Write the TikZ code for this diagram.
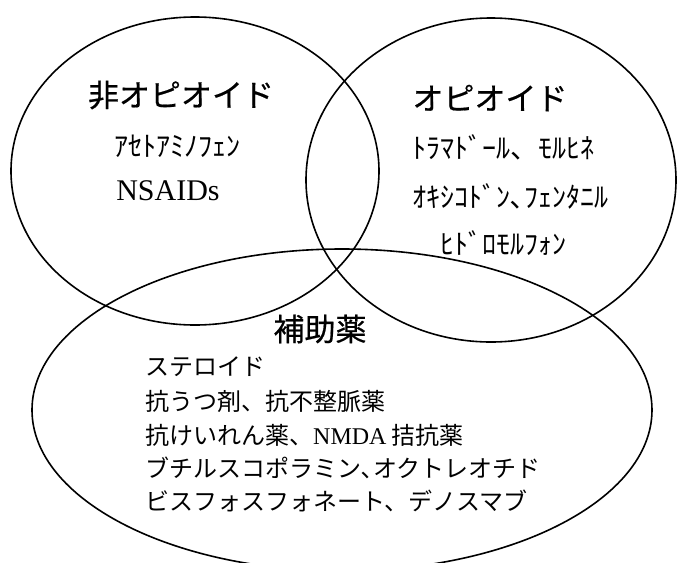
\documentclass[tikz,border=0pt]{standalone}
\usepackage{fontspec}
\setmainfont{Liberation Serif}
\newfontfamily\cjk{Noto Sans CJK JP}
\newfontfamily\cjkhead[FakeBold=0.6]{Noto Sans CJK JP}
\tikzset{
  venn/.style={line width=1.6pt, draw=black},
  head/.style={inner sep=0pt, font=\cjkhead\fontsize{31}{31}\selectfont},
  half/.style={inner sep=0pt, font=\cjk\fontsize{28}{28}\selectfont},
  item/.style={inner sep=0pt, anchor=west, font=\cjk\fontsize{24}{24}\selectfont},
  latin/.style={inner sep=0pt, font=\rmfamily\fontsize{30}{30}\selectfont},
}
\begin{document}
\begin{tikzpicture}[x=1pt,y=-1pt]
  \useasboundingbox (0,0) rectangle (681,563);
  \clip (0,0) rectangle (681,563);
  % circles
  \draw[venn] (195,171) ellipse [x radius=184pt, y radius=154pt];
  \draw[venn] (491,180) ellipse [x radius=185pt, y radius=162pt];
  \draw[venn] (342,410) ellipse [x radius=310pt, y radius=161pt];
  % non-opioid
  \node[head] (nonop) at (181,95) {非オピオイド};
  \node[half] (acet) at (177,146) {ｱｾﾄｱﾐﾉﾌｪﾝ};
  \node[latin] (nsaid) at (168,191) {NSAIDs};
  % opioid
  \node[head] (op) at (490,98) {オピオイド};
  \node[half, anchor=west] (op1) at (412,147) {ﾄﾗﾏﾄﾞｰﾙ、ﾓﾙﾋﾈ};
  \node[half, anchor=west] (op2) at (412,196) {ｵｷｼｺﾄﾞﾝ､ﾌｪﾝﾀﾆﾙ};
  \node[half] (op3) at (503,243) {ﾋﾄﾞﾛﾓﾙﾌｫﾝ};
  % adjuvant
  \node[head] (adj) at (320,329) {補助薬};
  \node[item] (a1) at (145,367) {ステロイド};
  \node[item] (a2) at (145,401) {抗うつ剤、抗不整脈薬};
  \node[item] (a3) at (145,435) {抗けいれん薬、{\rmfamily NMDA} 拮抗薬};
  \node[item] (a4) at (145,468) {ブチルスコポラミン､オクトレオチド};
  \node[item] (a5) at (145,501) {ビスフォスフォネート、デノスマブ};
\end{tikzpicture}
\end{document}
